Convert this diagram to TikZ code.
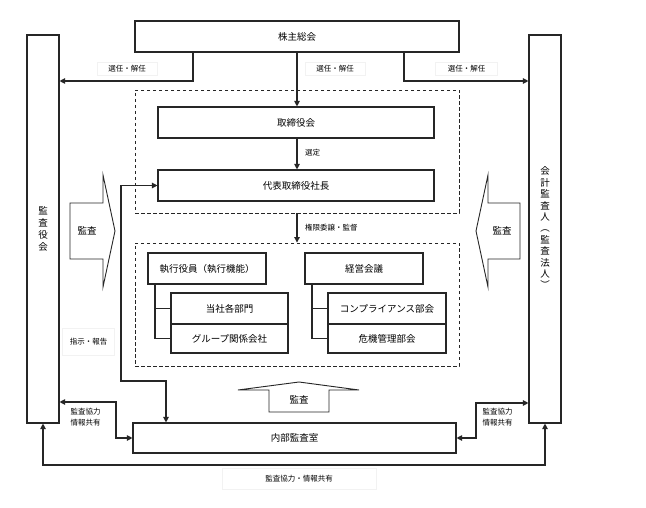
\documentclass[tikz,border=0pt]{standalone}
\usepackage{fontspec}
\setmainfont{Noto Sans CJK JP}
\usetikzlibrary{arrows.meta}
\tikzset{
  x=1pt, y=-1pt,
  box/.style={draw=black!85, line width=1.1pt, inner sep=0pt, font=\fontsize{9.5}{11}\selectfont},
  dbox/.style={draw=black!85, line width=0.9pt, dash pattern=on 3.5pt off 2.5pt, inner sep=0pt},
  conn/.style={draw=black!85, line width=1.1pt},
  arr/.style={conn, -{Triangle[width=5.5pt,length=5.5pt]}},
  arrs/.style={conn, {Triangle[width=5.5pt,length=5.5pt]}-{Triangle[width=5.5pt,length=5.5pt]}},
  lab/.style={font=\fontsize{7.5}{10}\selectfont, inner sep=0pt},
  labbox/.style={lab, draw=black!5, line width=0.5pt},
  bigarrow/.style={draw=black!85, line width=0.9pt},
  vtext/.style={align=center, font=\fontsize{9.5}{12}\selectfont, inner sep=0pt}
}
\begin{document}
\begin{tikzpicture}
\useasboundingbox[fill=white] (0,0) rectangle (646,508);
% boxes
\node[box, minimum width=324pt, minimum height=31pt] (kabu) at (297,36.5) {株主総会};
\node[box, minimum width=32pt, minimum height=388pt] (kansayaku) at (43,229) {};
\node[vtext] (kansayakut) at (43,229) {監\\査\\役\\会};
\node[box, minimum width=32pt, minimum height=388pt] (kaikei) at (545,229) {};
\node[vtext, font=\fontsize{9.5}{11.4}\selectfont] (kaikeit) at (545,228) {会\\計\\監\\査\\人\\︵\\監\\査\\法\\人\\︶};
\node[dbox, minimum width=324pt, minimum height=123pt] (d1) at (297,151.5) {};
\node[box, minimum width=276pt, minimum height=31pt] (tori) at (296,122.5) {取締役会};
\node[box, minimum width=276pt, minimum height=31pt] (daihyo) at (296,185.5) {代表取締役社長};
\node[dbox, minimum width=324pt, minimum height=123pt] (d2) at (297,304.5) {};
\node[box, minimum width=118pt, minimum height=31pt] (shikko) at (207,268.5) {執行役員（執行機能）};
\node[box, minimum width=117pt, minimum height=31pt] (tosha) at (229.5,308.5) {当社各部門};
\node[box, minimum width=117pt, minimum height=29pt] (group) at (229.5,338.5) {グループ関係会社};
\node[box, minimum width=118pt, minimum height=31pt] (keiei) at (364,268.5) {経営会議};
\node[box, minimum width=118pt, minimum height=31pt] (comp) at (387,308.5) {コンプライアンス部会};
\node[box, minimum width=118pt, minimum height=29pt] (kiki) at (387,338.5) {危機管理部会};
\node[box, minimum width=323pt, minimum height=30pt] (naibu) at (294.5,438) {内部監査室};

% labels
\node[labbox, minimum width=60pt, minimum height=13pt] (l1) at (127,69) {選任・解任};
\node[labbox, minimum width=60pt, minimum height=13pt] (l2) at (335,69) {選任・解任};
\node[labbox, minimum width=62pt, minimum height=13pt] (l3) at (466.5,69) {選任・解任};
\node[lab, anchor=west] (l4) at (305,153) {選定};
\node[lab, anchor=west] (l5) at (305,227.5) {権限委譲・監督};
\node[labbox, minimum width=52pt, minimum height=27pt] (l6) at (88.5,341.5) {指示・報告};
\node[lab, align=left, font=\fontsize{7.5}{10.5}\selectfont] (l7) at (85.5,417) {監査協力\\情報共有};
\node[lab, align=left, font=\fontsize{7.5}{10.5}\selectfont] (l8) at (497.5,417) {監査協力\\情報共有};
\node[labbox, minimum width=154pt, minimum height=21pt] (l9) at (299,479) {監査協力・情報共有};

% connectors
\draw[arr] (kabu.south -| 193,0) |- (kansayaku.east |- 0,81);
\draw[arr] (kabu.south) -- (tori.north -| kabu.south);
\draw[arr] (kabu.south -| 404,0) |- (kaikei.west |- 0,81);
\draw[arr] (tori.south -| kabu.south) -- (daihyo.north -| kabu.south);
\draw[arr] (d1.south) -- (d2.north);
\draw[conn] (shikko.south -| 155,0) |- (group.west);
\draw[conn] (tosha.west) -- (tosha.west -| 155,0);
\draw[conn] (keiei.south -| 312,0) |- (kiki.west);
\draw[conn] (comp.west) -- (comp.west -| 312,0);
\draw[arrs] (daihyo.west) -| (121,381) -| (naibu.north -| 166,0);
\draw[arrs] (naibu.west) -| (116,402) -- (kansayaku.east |- 0,402);
\draw[arrs] (naibu.east) -| (476,403) -- (kaikei.west |- 0,403);
\draw[arrs] (kansayaku.south) |- (kaikei.south |- 0,465) -- (kaikei.south);

% big audit arrows
\draw[bigarrow] (70,203) -- (103,203) -- (103,175) -- (115,231) -- (103,287) -- (103,259) -- (70,259) -- cycle;
\node[lab, font=\fontsize{9.5}{11}\selectfont] (a1) at (87,231) {監査};
\draw[bigarrow] (520,203) -- (488,203) -- (488,175) -- (476,231) -- (488,287) -- (488,259) -- (520,259) -- cycle;
\node[lab, font=\fontsize{9.5}{11}\selectfont] (a2) at (502,231) {監査};
\draw[bigarrow] (269,412) -- (269,390) -- (238,390) -- (299,382) -- (359,390) -- (329,390) -- (329,412) -- cycle;
\node[lab, font=\fontsize{9.5}{11}\selectfont] (a3) at (299,400) {監査};
\end{tikzpicture}
\end{document}
